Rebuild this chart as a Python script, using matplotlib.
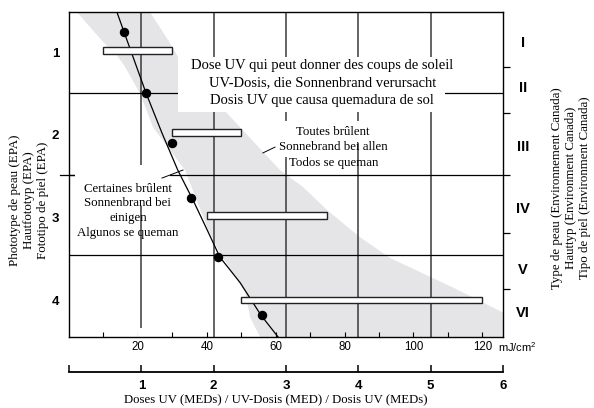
"""
Sunburn dose vs skin phototype chart (EPA / Environment Canada).
Redrawn with matplotlib; x in mJ/cm2, y in EPA phototype units.
"""

import numpy as np
import matplotlib
matplotlib.use("Agg")
import matplotlib.pyplot as plt
from matplotlib.patches import Polygon, Rectangle

plt.rcParams["font.family"] = ["Liberation Serif", "DejaVu Serif"]
plt.rcParams["mathtext.fontset"] = "custom"
plt.rcParams["mathtext.rm"] = "Liberation Sans"
plt.rcParams["mathtext.it"] = "Liberation Sans:italic"
SANS = ["Liberation Sans", "DejaVu Sans"]

# ---------------------------------------------------------------------------
# Data
# ---------------------------------------------------------------------------
MJ_PER_MED = 21
X_MAX = 126                      # 6 MED
Y_TOP, Y_BOTTOM = 0.516, 4.446

PHOTOTYPES = [1, 2, 3, 4]
RANGE_LO = [10, 30, 40, 50]
RANGE_HI = [30, 50, 75, 120]
RANGE_Y = [0.98, 1.97, 2.98, 4.0]

DOT_X = [16.0, 22.4, 29.9, 35.4, 43.3, 56.0]
DOT_Y = [0.76, 1.50, 2.10, 2.77, 3.48, 4.18]

CURVE_X = [13.9, 16.0, 22.4, 27.0, 31.6, 36.0, 40.1, 43.8, 49.7, 55.7, 60.7]
CURVE_Y = [0.516, 0.76, 1.50, 1.98, 2.43, 2.79, 3.15, 3.48, 3.79, 4.18, 4.446]

# shaded band (left edge top->bottom, right edge top->bottom)
BAND_LEFT_X = [2.3, 7.6, 11.3, 13.4, 16.3, 20.6, 24.4, 33.7, 40.4, 43.8, 51.1, 52.6, 55.5]
BAND_LEFT_Y = [0.516, 0.77, 0.94, 1.01, 1.18, 1.50, 1.91, 2.43, 3.15, 3.43, 3.90, 4.21, 4.446]
BAND_RIGHT_X = [23.5, 29.3, 32.2, 45.9, 61.3, 67.9, 74.9, 84.5, 93.2, 112.1, 126.0, 126.0]
BAND_RIGHT_Y = [0.516, 0.89, 1.10, 1.74, 2.43, 2.63, 2.91, 3.24, 3.49, 3.86, 4.15, 4.446]

ROW_LINES = [1.5, 2.49, 3.46]
CANADA_BOUNDS = [1.18, 1.74, 2.49, 3.19, 3.87]
ROMAN = ["I", "II", "III", "IV", "V", "VI"]
ROMAN_Y = [0.89, 1.44, 2.15, 2.90, 3.63, 4.15]

MJ_TICKS = list(range(10, 121, 10))
MED_TICKS = [0, 1, 2, 3, 4, 5, 6]

DOSE_LINES = ["Dose UV qui peut donner des coups de soleil",
              "UV-Dosis, die Sonnenbrand verursacht",
              "Dosis UV que causa quemadura de sol"]
ALL_LINES = ["Toutes brûlent", "Sonnebrand bei allen", "Todos se queman"]
SOME_LINES = ["Certaines brûlent", "Sonnenbrand bei", "einigen", "Algunos se queman"]

# ---------------------------------------------------------------------------
# Figure
# ---------------------------------------------------------------------------
W, H = 594, 408
fig = plt.figure(figsize=(W / 100, H / 100), dpi=100)
ax = fig.add_axes([69 / W, 1 - 337 / H, 434 / W, 325 / H])
ax.set_xlim(0, X_MAX)
ax.set_ylim(Y_BOTTOM, Y_TOP)

# shaded band
band = list(zip(BAND_LEFT_X, BAND_LEFT_Y)) + list(zip(BAND_RIGHT_X, BAND_RIGHT_Y))[::-1]
ax.add_patch(Polygon(band, closed=True, fc="#e5e5e7", ec="none", zorder=1))

# grid
for m in range(1, 6):
    ax.axvline(m * MJ_PER_MED, color="#3a3a3a", lw=1.1, zorder=2)
for y in ROW_LINES:
    ax.axhline(y, color="black", lw=0.9, zorder=2)
ax.plot([-2.6, 2.3], [ROW_LINES[1], ROW_LINES[1]], color="black", lw=0.9,
        clip_on=False, zorder=2)

# white masks behind labels
masks = [(31.65, 1.06, 109.2, 1.726), (61.3, 1.835, 88.0, 2.10),
         (60.7, 2.10, 67.1, 2.27), (1.74, 2.367, 29.3, 2.863),
         (19.9, 4.337, 24.1, 4.446)]
for x0, y0, x1, y1 in masks:
    ax.add_patch(Rectangle((x0, y0), x1 - x0, y1 - y0, fc="white", ec="none", zorder=3))

# curve, ranges, dots
ax.plot(CURVE_X, CURVE_Y, color="black", lw=0.9, zorder=4)
for lo, hi, y in zip(RANGE_LO, RANGE_HI, RANGE_Y):
    ax.add_patch(Rectangle((lo, y - 0.04), hi - lo, 0.08, fc="white",
                           ec="#222222", lw=1.0, zorder=5))
ax.plot(DOT_X, DOT_Y, "o", color="black", ms=5.8, zorder=6)

# leaders
ax.plot([56.3, 59.8], [2.22, 2.15], color="black", lw=0.7, zorder=6)
ax.plot([27.0, 33.1], [2.524, 2.427], color="black", lw=0.7, zorder=6)

# texts
for s, y in zip(DOSE_LINES, [1.157, 1.375, 1.581]):
    ax.text(73.5, y, s, ha="center", va="center", fontsize=10.5, zorder=7)
for s, y in zip(ALL_LINES, [1.968, 2.149, 2.343]):
    ax.text(76.7, y, s, ha="center", va="center", fontsize=9.3, zorder=7)
for s, y in zip(SOME_LINES, [2.657, 2.827, 3.008, 3.189]):
    ax.text(17.1, y, s, ha="center", va="center", fontsize=9.3, zorder=7)

# axes styling
for sp in ax.spines.values():
    sp.set_linewidth(1.0)
    sp.set_zorder(8)
ax.set_xticks(MJ_TICKS)
ax.set_xticklabels([str(v) if v % 20 == 0 else "" for v in MJ_TICKS],
                   fontfamily=SANS, fontsize=8.3)
ax.tick_params(axis="x", direction="in", length=3.5, width=0.8, pad=3)
ax.set_yticks(PHOTOTYPES)
ax.set_yticklabels([str(p) for p in PHOTOTYPES], fontfamily=SANS,
                   fontweight="heavy", fontsize=9.5)
ax.tick_params(axis="y", length=0, pad=7)
ax.text(0.988, -0.031, "mJ/cm$^2$", transform=ax.transAxes, ha="left",
        va="center", fontfamily=SANS, fontsize=8)

twin = ax.twinx()
twin.set_ylim(ax.get_ylim())
twin.set_yticks(CANADA_BOUNDS)
twin.tick_params(axis="y", direction="out", length=5, width=0.9, labelright=False)
for sp in twin.spines.values():
    sp.set_visible(False)
for s, y in zip(ROMAN, ROMAN_Y):
    ax.text(1.046, y, s, transform=ax.get_yaxis_transform(), ha="center",
            va="center", fontfamily=SANS, fontweight="heavy", fontsize=10.5)

# MED scale
axm = fig.add_axes([69 / W, 1 - 372 / H, 434 / W, 0.01])
axm.set_xlim(0, 6)
for k in ["top", "left", "right"]:
    axm.spines[k].set_visible(False)
axm.spines["bottom"].set_linewidth(1.3)
axm.patch.set_visible(False)
axm.set_yticks([])
axm.set_xticks(MED_TICKS)
axm.set_xticklabels([str(v) if v else "" for v in MED_TICKS], fontfamily=SANS,
                    fontweight="heavy", fontsize=9.5)
axm.tick_params(axis="x", direction="in", length=5, width=1.1, pad=5.5)

fig.text(276 / W, 1 - 400 / H, "Doses UV (MEDs) / UV-Dosis (MED) / Dosis UV (MEDs)",
         ha="center", va="center", fontsize=9.2)
fig.text(29 / W, 1 - 200 / H,
         "Phototype de peau (EPA)\nHautfototyp (EPA)\nFototipo de piel (EPA)",
         rotation=90, ha="center", va="center", multialignment="center",
         fontsize=9.4, linespacing=1.2)
fig.text(571 / W, 1 - 188 / H,
         "Type de peau (Environnement Canada)\nHauttyp (Environment Canada)\n"
         "Tipo de piel (Environment Canada)",
         rotation=90, ha="center", va="center", multialignment="center",
         fontsize=9.3, linespacing=1.25)

fig.savefig("out.png", dpi=100)
